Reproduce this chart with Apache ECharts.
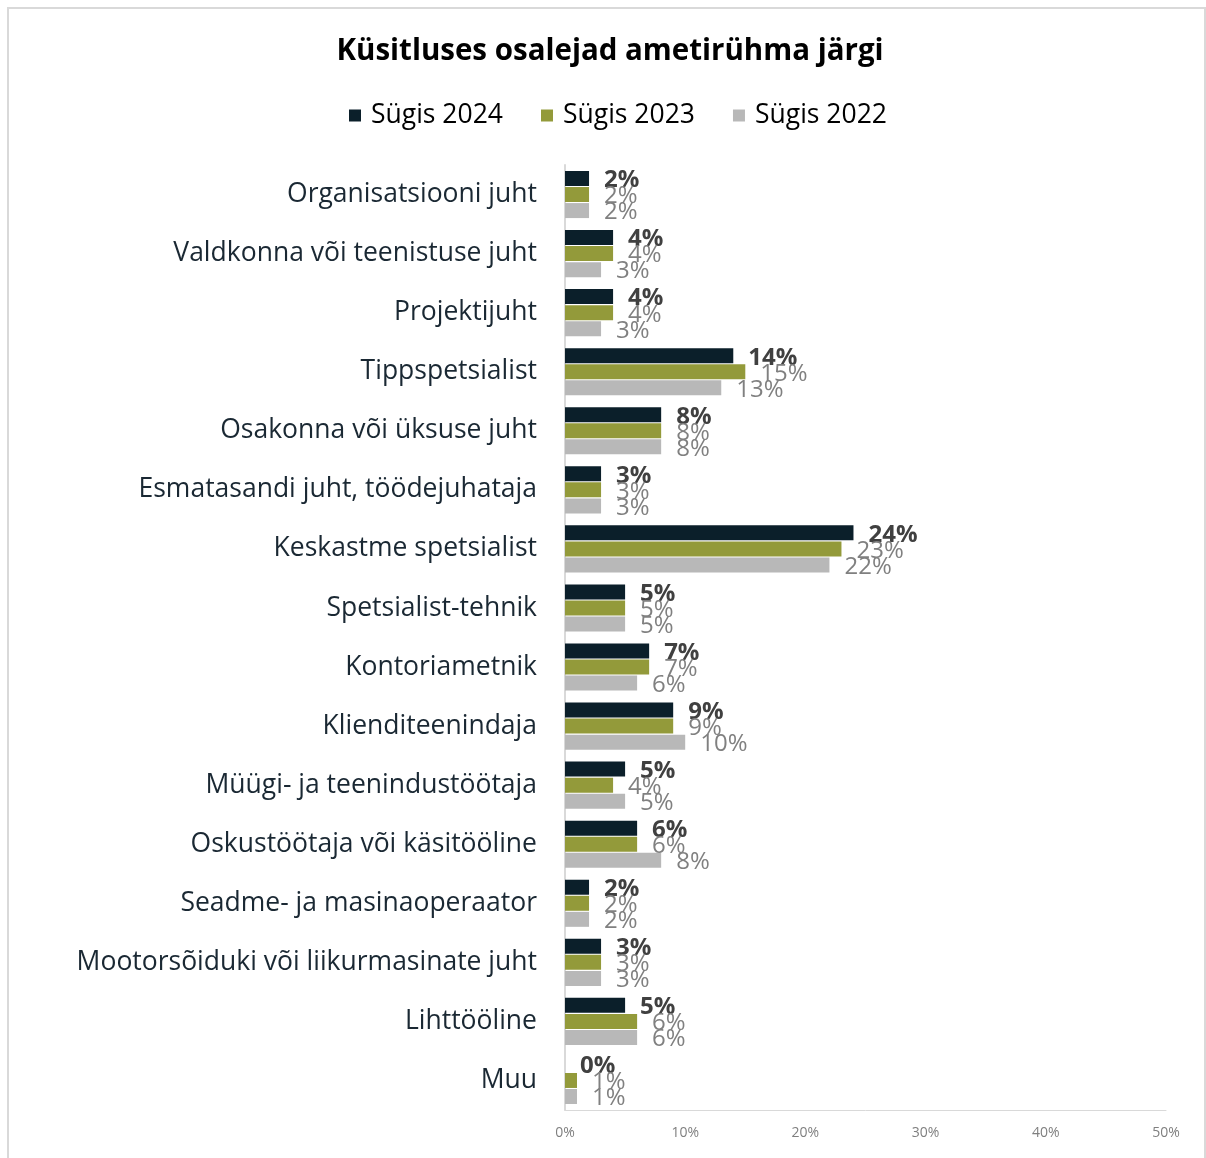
<!DOCTYPE html>
<html>
<head>
<meta charset="utf-8">
<script src="https://cdn.jsdelivr.net/npm/echarts@6/dist/echarts.min.js"></script>
<style>
html,body{margin:0;padding:0;background:#fff;}
#chart{width:1206px;height:1158px;}
</style>
</head>
<body>
<div id="chart"></div>
<script>
const categories = [
  "Organisatsiooni juht",
  "Valdkonna või teenistuse juht",
  "Projektijuht",
  "Tippspetsialist",
  "Osakonna või üksuse juht",
  "Esmatasandi juht, töödejuhataja",
  "Keskastme spetsialist",
  "Spetsialist-tehnik",
  "Kontoriametnik",
  "Klienditeenindaja",
  "Müügi- ja teenindustöötaja",
  "Oskustöötaja või käsitööline",
  "Seadme- ja masinaoperaator",
  "Mootorsõiduki või liikurmasinate juht",
  "Lihttööline",
  "Muu"
];
const seriesNames = ["Sügis 2024", "Sügis 2023", "Sügis 2022"];
const sugis2024 = [2, 4, 4, 14, 8, 3, 24, 5, 7, 9, 5, 6, 2, 3, 5, 0];
const sugis2023 = [2, 4, 4, 15, 8, 3, 23, 5, 7, 9, 4, 6, 2, 3, 6, 1];
const sugis2022 = [2, 3, 3, 13, 8, 3, 22, 5, 6, 10, 5, 8, 2, 3, 6, 1];
const xTicks = [0, 10, 20, 30, 40, 50];

const colors = ["#0b1f2a", "#939a3a", "#b8b8b8"];
const FONT = "'Open Sans', 'Noto Sans', sans-serif";

function mkSeries(name, data, color, bold) {
  return {
    name: name,
    type: 'bar',
    data: data,
    barWidth: 15,
    barGap: '7%',
    barCategoryGap: '20%',
    itemStyle: { color: color },
    label: {
      show: true,
      position: 'right',
      distance: 15,
      offset: [0, 2],
      formatter: '{c}%',
      fontFamily: FONT,
      fontSize: 24,
      fontWeight: bold ? 'bold' : 'normal',
      color: bold ? '#404040' : '#808080'
    }
  };
}

const chart = echarts.init(document.getElementById('chart'));
chart.setOption({
  animation: false,
  backgroundColor: '#fff',
  textStyle: { fontFamily: FONT },
  graphic: [{
    type: 'rect',
    shape: { x: 8, y: 8, width: 1197, height: 1170 },
    style: { fill: 'none', stroke: '#d9d9d9', lineWidth: 2 },
    silent: true
  }],
  title: {
    text: 'Küsitluses osalejad ametirühma järgi',
    left: 605,
    textAlign: 'center',
    top: 32,
    textStyle: { fontFamily: FONT, fontSize: 29.5, fontWeight: 'bold', color: '#000' }
  },
  legend: {
    data: seriesNames,
    top: 97,
    left: 344,
    itemWidth: 12,
    itemHeight: 12,
    itemGap: 38,
    icon: 'rect',
    textStyle: { fontFamily: FONT, fontSize: 26.5, color: '#000', padding: [0, 0, 0, 5] }
  },
  grid: { left: 565, right: 40, top: 165, bottom: 48, containLabel: false },
  xAxis: {
    type: 'value',
    min: 0,
    max: 50,
    interval: 10,
    axisLine: { show: true, lineStyle: { color: '#d9d9d9', width: 1 } },
    axisTick: { show: false },
    splitLine: { show: false },
    axisLabel: {
      formatter: function (v) { return xTicks.indexOf(v) >= 0 ? v + '%' : ''; },
      fontFamily: FONT, fontSize: 14, color: '#7f7f7f', margin: 16
    }
  },
  yAxis: {
    type: 'category',
    data: categories,
    inverse: true,
    axisLine: { show: true, lineStyle: { color: '#d9d9d9', width: 2 } },
    axisTick: { show: false },
    axisLabel: { fontFamily: FONT, fontSize: 26.5, color: '#1a2833', margin: 28 }
  },
  series: [
    mkSeries(seriesNames[0], sugis2024, colors[0], true),
    mkSeries(seriesNames[1], sugis2023, colors[1], false),
    mkSeries(seriesNames[2], sugis2022, colors[2], false)
  ]
});
</script>
</body>
</html>
